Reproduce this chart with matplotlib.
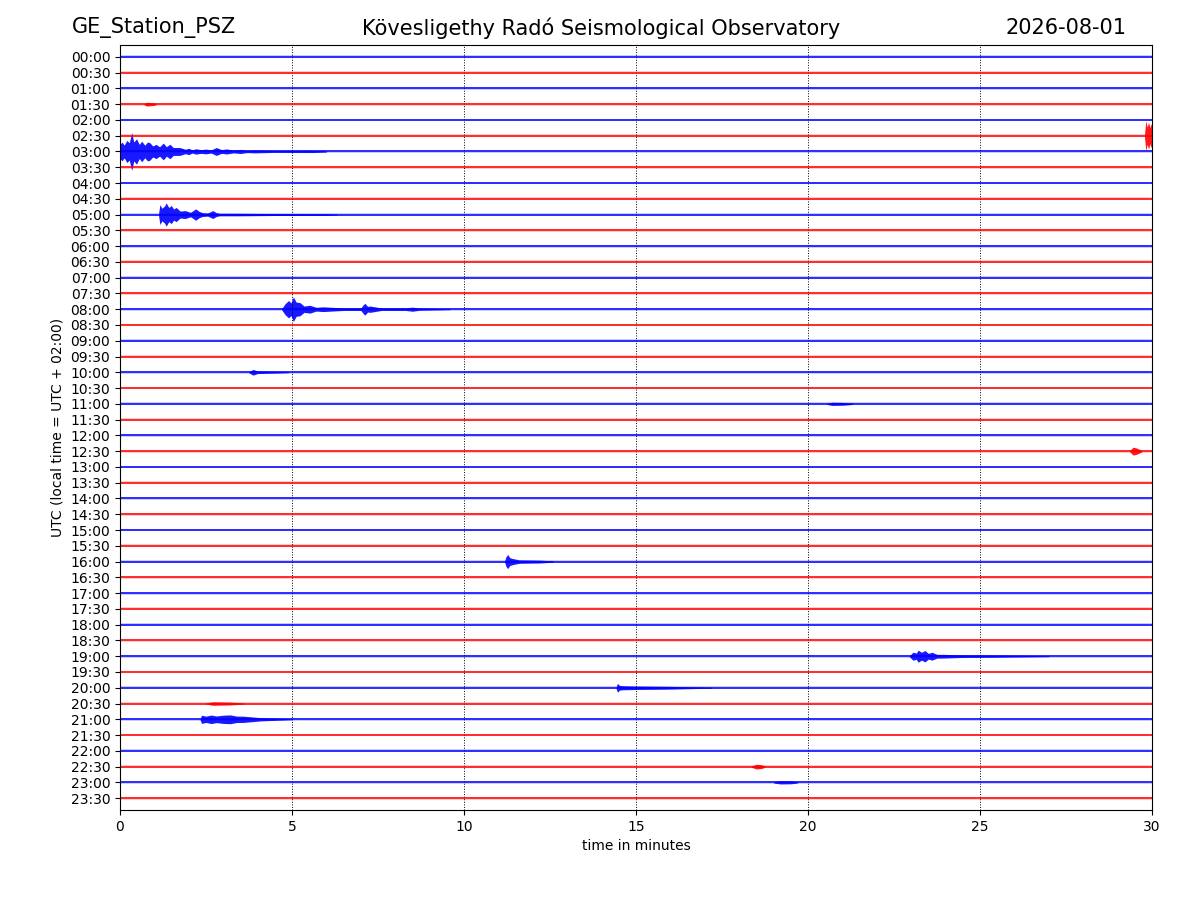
import numpy as np
import matplotlib
matplotlib.use("Agg")
import matplotlib.pyplot as plt

# helicorder rows: one 30 minute line each, 00:00 ... 23:30
row_labels = ["%02d:%02d" % (h, m) for h in range(24) for m in (0, 30)]
row_colors = ["blue" if i % 2 == 0 else "red" for i in range(len(row_labels))]

minutes = [0, 30]

# events: envelope peaks, amplitude in row spacings
ev_0130_t = [0.70, 0.78, 0.95, 1.05]
ev_0130_a = [0.04, 0.12, 0.09, 0.04]

ev_0230_t = [29.78, 29.82, 29.86, 29.90, 29.94, 29.97, 30.0]
ev_0230_a = [0.04, 0.95, 0.55, 0.85, 0.50, 0.75, 0.55]

ev_0300_t = [0.0, 0.06, 0.12, 0.20, 0.27, 0.34, 0.40, 0.48, 0.56, 0.63, 0.72, 0.80,
             0.87, 0.95, 1.05, 1.15, 1.26, 1.35, 1.45, 1.55, 1.74, 1.9, 2.0, 2.1,
             2.2, 2.35, 2.5, 2.65, 2.8, 2.95, 3.1, 3.3, 3.5, 3.7, 3.9, 4.5, 5.6, 6.0]
ev_0300_a = [0.45, 0.60, 0.40, 0.70, 0.55, 1.20, 0.60, 0.80, 0.45, 0.65, 0.40, 0.60,
             0.55, 0.35, 0.45, 0.30, 0.53, 0.30, 0.46, 0.25, 0.25, 0.14, 0.20, 0.10,
             0.17, 0.12, 0.15, 0.10, 0.25, 0.12, 0.16, 0.09, 0.13, 0.07, 0.09, 0.06, 0.07, 0.04]

ev_0500_t = [1.12, 1.16, 1.22, 1.30, 1.34, 1.42, 1.49, 1.56, 1.63, 1.75, 1.9, 2.05,
             2.2, 2.3, 2.4, 2.55, 2.7, 2.8, 2.9, 3.4, 4.5, 6.0, 6.3]
ev_0500_a = [0.04, 0.63, 0.40, 0.55, 0.74, 0.45, 0.57, 0.35, 0.45, 0.22, 0.25, 0.14,
             0.36, 0.20, 0.12, 0.10, 0.25, 0.12, 0.08, 0.08, 0.06, 0.05, 0.03]

ev_0800_t = [4.70, 4.80, 4.90, 4.97, 5.04, 5.12, 5.23, 5.35, 5.52, 5.7, 5.9, 6.5,
             7.0, 7.08, 7.12, 7.20, 7.27, 7.6, 8.3, 8.5, 8.7, 9.6]
ev_0800_a = [0.04, 0.35, 0.55, 0.40, 0.78, 0.45, 0.42, 0.20, 0.25, 0.12, 0.15, 0.08,
             0.08, 0.30, 0.37, 0.18, 0.20, 0.08, 0.08, 0.13, 0.07, 0.03]

ev_1000_t = [3.75, 3.87, 4.0, 4.4, 4.9]
ev_1000_a = [0.04, 0.18, 0.08, 0.06, 0.03]

ev_1100_t = [20.55, 20.7, 21.0, 21.3]
ev_1100_a = [0.04, 0.10, 0.09, 0.04]

ev_1230_t = [29.35, 29.45, 29.55, 29.7]
ev_1230_a = [0.04, 0.25, 0.20, 0.05]

ev_1600_t = [11.18, 11.22, 11.27, 11.33, 11.4, 11.6, 12.2, 12.6]
ev_1600_a = [0.04, 0.30, 0.45, 0.25, 0.20, 0.11, 0.09, 0.04]

ev_1900_t = [22.95, 23.05, 23.15, 23.2, 23.3, 23.4, 23.5, 23.6, 23.75, 23.9, 24.5, 25.4, 27.0]
ev_1900_a = [0.04, 0.25, 0.20, 0.38, 0.25, 0.36, 0.18, 0.25, 0.12, 0.12, 0.08, 0.07, 0.03]

ev_2000_t = [14.42, 14.46, 14.52, 14.6, 15.0, 15.9, 17.2]
ev_2000_a = [0.04, 0.28, 0.15, 0.13, 0.11, 0.09, 0.03]

ev_2030_t = [2.5, 2.7, 3.2, 3.6]
ev_2030_a = [0.04, 0.11, 0.09, 0.04]

ev_2100_t = [2.33, 2.37, 2.5, 2.65, 2.8, 3.0, 3.2, 3.4, 3.58, 4.1, 5.0]
ev_2100_a = [0.04, 0.26, 0.20, 0.27, 0.21, 0.26, 0.28, 0.20, 0.20, 0.10, 0.03]

ev_2230_t = [18.35, 18.5, 18.65, 18.75]
ev_2230_a = [0.04, 0.15, 0.12, 0.04]

ev_2300_t = [19.0, 19.2, 19.5, 19.7]
ev_2300_a = [0.04, 0.10, 0.09, 0.04]

events = [
    ("01:30", ev_0130_t, ev_0130_a),
    ("02:30", ev_0230_t, ev_0230_a),
    ("03:00", ev_0300_t, ev_0300_a),
    ("05:00", ev_0500_t, ev_0500_a),
    ("08:00", ev_0800_t, ev_0800_a),
    ("10:00", ev_1000_t, ev_1000_a),
    ("11:00", ev_1100_t, ev_1100_a),
    ("12:30", ev_1230_t, ev_1230_a),
    ("16:00", ev_1600_t, ev_1600_a),
    ("19:00", ev_1900_t, ev_1900_a),
    ("20:00", ev_2000_t, ev_2000_a),
    ("20:30", ev_2030_t, ev_2030_a),
    ("21:00", ev_2100_t, ev_2100_a),
    ("22:30", ev_2230_t, ev_2230_a),
    ("23:00", ev_2300_t, ev_2300_a),
]

noise_half = 0.09  # background noise band, in row spacings

fig = plt.figure(figsize=(12, 9), dpi=100)
ax = fig.add_axes([0.1, 0.1, 0.86, 0.85])

# quiet background of every row
for i, (lab, col) in enumerate(zip(row_labels, row_colors)):
    ax.fill_between(minutes, i - noise_half, i + noise_half, color=col, alpha=0.2, lw=0)
    ax.plot(minutes, [i, i], color=col, lw=1.1)

# the recorded events
for lab, t, a in events:
    i = row_labels.index(lab)
    t = np.array(t)
    a = np.array(a)
    ax.fill_between(t, i - a, i + a, color=row_colors[i], lw=0, alpha=0.9)

ax.set_xlim(0, 30)
ax.set_ylim(len(row_labels) - 0.25, -0.75)
ax.set_yticks(range(len(row_labels)))
ax.set_yticklabels(row_labels)
ax.set_xticks([0, 5, 10, 15, 20, 25, 30])
ax.grid(axis="x", linestyle=":", color="black", linewidth=0.7)
ax.set_xlabel("time in minutes")
ax.set_ylabel("UTC (local time = UTC + 02:00)")

fig.text(0.06, 0.969, "GE_Station_PSZ", fontsize=15, ha="left", va="center")
fig.text(0.501, 0.969, "Kövesligethy Radó Seismological Observatory", fontsize=15,
         ha="center", va="center")
fig.text(0.939, 0.969, "2026-08-01", fontsize=15, ha="right", va="center")

fig.savefig("out.png", dpi=100)
